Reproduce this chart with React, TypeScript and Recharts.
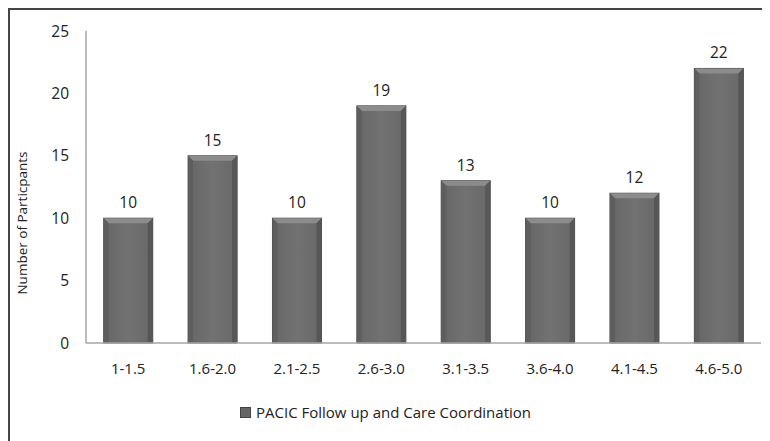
import React from 'react';
import { Bar, BarChart, LabelList, Legend, XAxis, YAxis } from 'recharts';

const ranges = ['1-1.5', '1.6-2.0', '2.1-2.5', '2.6-3.0', '3.1-3.5', '3.6-4.0', '4.1-4.5', '4.6-5.0'];
const participants = [10, 15, 10, 19, 13, 10, 12, 22];
const yTicks = [0, 5, 10, 15, 20, 25];
const seriesName = 'PACIC Follow up and Care Coordination';

const data = ranges.map((range, i) => ({ range, count: participants[i] }));

const FONT = '"Open Sans", "Liberation Sans", sans-serif';

// bevelled grey bar, like the old office chart style
const BevelBar = (props: any) => {
    const { x, y, width, height } = props;
    if (!height || height <= 0) return null;
    const b = 5;
    return (
        <g>
            <rect x={x} y={y} width={width} height={height} fill="url(#barFace)" stroke="#4a4a4a" strokeWidth={1} />
            <polygon
                points={`${x},${y} ${x + width},${y} ${x + width - b},${y + b} ${x + b},${y + b}`}
                fill="#8c8c8c"
            />
            <polygon
                points={`${x},${y} ${x + b},${y + b} ${x + b},${y + height} ${x},${y + height}`}
                fill="#5e5e5e"
            />
            <polygon
                points={`${x + width},${y} ${x + width - b},${y + b} ${x + width - b},${y + height} ${x + width},${y + height}`}
                fill="#575757"
            />
        </g>
    );
};

const LegendContent = () => (
    <div style={{ display: 'flex', justifyContent: 'center', alignItems: 'center', paddingTop: 29, fontFamily: FONT, fontSize: 15, color: '#222' }}>
        <span style={{ display: 'inline-block', width: 9, height: 9, background: '#666', border: '1px solid #444', marginRight: 5 }} />
        <span>{seriesName}</span>
    </div>
);

export default function App() {
    return (
        <div style={{ width: 760, height: 431, borderLeft: '2px solid #444', borderTop: '2px solid #444', background: '#fff' }}>
            <BarChart
                width={760}
                height={431}
                data={data}
                margin={{ top: 21, right: 9, left: 0, bottom: 10 }}
                barCategoryGap="21%"
            >
                <defs>
                    <linearGradient id="barFace" x1="0" y1="0" x2="1" y2="0">
                        <stop offset="0%" stopColor="#666666" />
                        <stop offset="50%" stopColor="#727272" />
                        <stop offset="100%" stopColor="#686868" />
                    </linearGradient>
                </defs>
                <XAxis
                    dataKey="range"
                    height={30}
                    tickLine={false}
                    axisLine={{ stroke: '#a6a6a6', strokeWidth: 1.5 }}
                    tick={{ fill: '#222', fontSize: 15, fontFamily: FONT }}
                    tickMargin={14}
                />
                <YAxis
                    width={76}
                    domain={[0, 25]}
                    ticks={yTicks}
                    tickLine={false}
                    axisLine={{ stroke: '#a6a6a6', strokeWidth: 1.5 }}
                    tick={{ fill: '#222', fontSize: 15.5, fontFamily: FONT }}
                    tickMargin={11}
                    label={{
                        value: 'Number of Particpants',
                        angle: -90,
                        position: 'insideLeft',
                        dx: 7,
                        dy: 36,
                        style: { fill: '#222', fontSize: 13.5, fontFamily: FONT, textAnchor: 'middle' },
                    }}
                />
                <Legend verticalAlign="bottom" height={58} content={<LegendContent />} />
                <Bar dataKey="count" name={seriesName} shape={<BevelBar />} isAnimationActive={false}>
                    <LabelList dataKey="count" position="top" offset={10} style={{ fill: '#222', fontSize: 15.5, fontFamily: FONT }} />
                </Bar>
            </BarChart>
        </div>
    );
}
